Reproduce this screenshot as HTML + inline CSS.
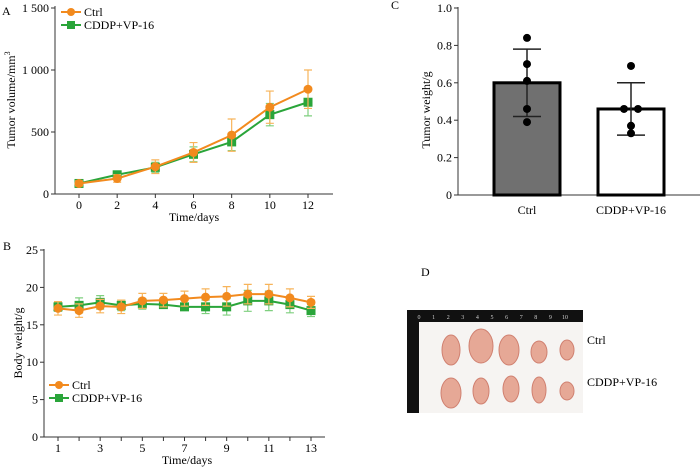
<!DOCTYPE html>
<html><head><meta charset="utf-8"><style>
body{margin:0;background:#fff;}
svg{display:block;font-family:"Liberation Serif",serif;}
</style></head><body>
<svg id="fig" width="700" height="467" viewBox="0 0 700 467"></svg>
<script>
// ---- Panel A data
const aDays=[0,2,4,6,8,10,12];
const aCtrl=[85,125,220,335,475,700,845];
const aCtrlErr=[20,30,55,80,130,130,155];
const aCddp=[85,155,215,320,420,640,740];
const aCddpErr=[20,20,40,60,70,90,110];
const aYTicks=[0,500,1000,1500];
const aYTickLabels=["0","500","1 000","1 500"];
// ---- Panel B data
const bDays=[1,2,3,4,5,6,7,8,9,10,11,12,13];
const bXTicks=[1,3,5,7,9,11,13];
const bCtrl=[17.2,16.9,17.5,17.4,18.2,18.3,18.5,18.7,18.8,19.1,19.1,18.6,18.0];
const bCtrlErr=[0.9,0.9,0.9,0.9,1.0,0.9,1.0,1.1,1.3,1.3,1.3,1.2,0.8];
const bCddp=[17.4,17.6,18.0,17.6,17.8,17.7,17.4,17.4,17.4,18.2,18.2,17.7,16.9];
const bCddpErr=[0.6,1.0,0.9,0.7,0.7,0.5,0.4,0.9,1.1,1.4,1.3,1.1,0.8];
const bYTicks=[0,5,10,15,20,25];
// ---- Panel C data
const cGroups=["Ctrl","CDDP+VP-16"];
const cMeans=[0.6,0.46];
const cSd=[0.18,0.14];
const cCtrlPts=[0.84,0.70,0.61,0.46,0.39];
const cCddpPts=[0.69,0.46,0.46,0.37,0.33];
const cYTicks=[0,0.2,0.4,0.6,0.8,1.0];
const cYTickLabels=["0","0.2","0.4","0.6","0.8","1.0"];

const NS="http://www.w3.org/2000/svg";
const svg=document.getElementById('fig');
function mk(tag,attrs,parent,text){const e=document.createElementNS(NS,tag);for(const k in attrs)e.setAttribute(k,attrs[k]);if(text!==undefined)e.textContent=text;(parent||svg).appendChild(e);return e;}
const OR="#f28a1e",OR_L="#f7b45a",GR="#2aa53a",GR_L="#7fcf7f";

// ===== Panel A
const ax=d=>79+(d-0)*(308-79)/12, ay=v=>194-v*(186/1500);
let g=mk('g',{});
let t=mk('text',{x:2,y:15,'font-size':12},g,'A');
mk('line',{x1:55,y1:6,x2:55,y2:194,stroke:'#333'},g);
mk('line',{x1:55,y1:194,x2:333,y2:194,stroke:'#333'},g);
aYTicks.forEach((v,i)=>{mk('line',{x1:51,y1:ay(v),x2:55,y2:ay(v),stroke:'#333'},g);
 t=mk('text',{x:49,y:ay(v)+4,'font-size':12,'text-anchor':'end'},g,aYTickLabels[i]);});
aDays.forEach(d=>{mk('line',{x1:ax(d),y1:194,x2:ax(d),y2:198,stroke:'#333'},g);
 t=mk('text',{x:ax(d),y:209,'font-size':12,'text-anchor':'middle'},g,String(d));});
t=mk('text',{x:194,y:221,'font-size':12,'text-anchor':'middle'},g,'Time/days');
t=mk('text',{transform:'translate(15,100) rotate(-90)','font-size':12,'text-anchor':'middle'},g,'Tumor volume/mm');
mk('tspan',{'font-size':8,dy:-5},t,'3');
function series(g,xs,ys,errs,xf,yf,col,lcol,shape,name){
 xs.forEach((d,i)=>{const x=xf(d),y1=yf(ys[i]+errs[i]),y2=yf(ys[i]-errs[i]);
  let e=mk('path',{d:`M${x},${y1}V${y2}M${x-4},${y1}H${x+4}M${x-4},${y2}H${x+4}`,stroke:lcol,'stroke-width':1.2,fill:'none'},g);
  });
 let l=mk('polyline',{points:xs.map((d,i)=>xf(d)+','+yf(ys[i])).join(' '),stroke:col,'stroke-width':2,fill:'none'},g);
 
 xs.forEach((d,i)=>{const x=xf(d),y=yf(ys[i]);let m;
  if(shape==='c')m=mk('circle',{cx:x,cy:y,r:4.5,fill:col},g);else m=mk('rect',{x:x-4.5,y:y-4.5,width:9,height:9,fill:col},g);
  });
}
series(g,aDays,aCddp,aCddpErr,ax,ay,GR,GR_L,'s','cddp');
series(g,aDays,aCtrl,aCtrlErr,ax,ay,OR,OR_L,'c','ctrl');
function legend(g,x,y,col,shape,label,name){let lg=mk('g',{},g);
 mk('line',{x1:x-10,y1:y,x2:x+10,y2:y,stroke:col,'stroke-width':2},lg);
 if(shape==='c')mk('circle',{cx:x,cy:y,r:4,fill:col},lg);else mk('rect',{x:x-4,y:y-4,width:8,height:8,fill:col},lg);
 mk('text',{x:x+13,y:y+4,'font-size':12},lg,label);}
legend(g,71,12,OR,'c','Ctrl','legend-ctrl');
legend(g,71,25,GR,'s','CDDP+VP-16','legend-cddp');

// ===== Panel B
const bx=d=>58+(d-1)*(311-58)/12, by=v=>437-v*(187/25);
g=mk('g',{});
t=mk('text',{x:3,y:250,'font-size':12},g,'B');
mk('line',{x1:44,y1:249,x2:44,y2:437,stroke:'#333'},g);
mk('line',{x1:44,y1:437,x2:325,y2:437,stroke:'#333'},g);
bYTicks.forEach(v=>{mk('line',{x1:40,y1:by(v),x2:44,y2:by(v),stroke:'#333'},g);
 t=mk('text',{x:38,y:by(v)+4,'font-size':12,'text-anchor':'end'},g,String(v));});
bDays.forEach(d=>mk('line',{x1:bx(d),y1:437,x2:bx(d),y2:441,stroke:'#333'},g));
bXTicks.forEach(d=>{t=mk('text',{x:bx(d),y:452,'font-size':12,'text-anchor':'middle'},g,String(d));});
t=mk('text',{x:187,y:464,'font-size':12,'text-anchor':'middle'},g,'Time/days');
t=mk('text',{transform:'translate(22,343) rotate(-90)','font-size':12,'text-anchor':'middle'},g,'Body weight/g');
series(g,bDays,bCddp,bCddpErr,bx,by,GR,GR_L,'s','cddp');
series(g,bDays,bCtrl,bCtrlErr,bx,by,OR,OR_L,'c','ctrl');
legend(g,59,385,OR,'c','Ctrl','legend-ctrl');
legend(g,59,398,GR,'s','CDDP+VP-16','legend-cddp');

// ===== Panel C
const cy=v=>195-v*187;
const cX=[527,631];
g=mk('g',{});
t=mk('text',{x:391,y:9,'font-size':12},g,'C');
mk('line',{x1:458,y1:7,x2:458,y2:195,stroke:'#333'},g);
mk('line',{x1:458,y1:195,x2:700,y2:195,stroke:'#333'},g);
cYTicks.forEach((v,i)=>{mk('line',{x1:454,y1:cy(v),x2:458,y2:cy(v),stroke:'#333'},g);
 t=mk('text',{x:452,y:cy(v)+4,'font-size':12,'text-anchor':'end'},g,cYTickLabels[i]);});
t=mk('text',{transform:'translate(430,110) rotate(-90)','font-size':12,'text-anchor':'middle'},g,'Tumor weight/g');
const fills=['#707070','#ffffff'];
cGroups.forEach((name,i)=>{
 let b=mk('rect',{x:cX[i]-33,y:cy(cMeans[i]),width:66,height:cy(0)-cy(cMeans[i]),fill:fills[i],stroke:'#000','stroke-width':3},g);
 
 const x=cX[i],y1=cy(cMeans[i]+cSd[i]),y2=cy(cMeans[i]-cSd[i]);
 let e=mk('path',{d:`M${x},${y1}V${y2}M${x-14},${y1}H${x+14}M${x-14},${y2}H${x+14}`,stroke:'#222','stroke-width':1.5,fill:'none'},g);
 
 t=mk('text',{x:x,y:214,'font-size':12,'text-anchor':'middle'},g,name);
});
[cCtrlPts,cCddpPts].forEach((pts,i)=>{const seen={};pts.forEach(v=>{const k=v.toFixed(2);seen[k]=(seen[k]||0)+1;});
 const cnt={};pts.forEach(v=>{const k=v.toFixed(2);const n=seen[k];cnt[k]=(cnt[k]||0)+1;const off=n>1?(cnt[k]-(n+1)/2)*14:0;
  let p=mk('circle',{cx:cX[i]+off,cy:cy(v),r:4,fill:'#000'},g);});});

// ===== Panel D
g=mk('g',{});
t=mk('text',{x:421,y:276,'font-size':12},g,'D');
mk('rect',{x:407,y:310,width:176,height:103,fill:'#111'},g);
mk('rect',{x:419,y:322,width:164,height:91,fill:'#f6f4f2'},g);
for(let i=0;i<=10;i++){mk('text',{x:419+i*14.6,y:319,'font-size':6,fill:'#ccc','text-anchor':'middle'},g,String(i));}
const tum=[[451,350,9,15],[481,346,12,17],[509,350,10,15],[539,352,8,11],[567,350,7,10],[451,393,10,15],[481,391,8,13],[511,389,8,13],[539,390,7,13],[567,391,7,9]];
tum.forEach(a=>{let e=mk('ellipse',{cx:a[0],cy:a[1],rx:a[2],ry:a[3],fill:'#e6a896',stroke:'#d08070','stroke-width':1},g);});
t=mk('text',{x:587,y:344,'font-size':12},g,'Ctrl');
t=mk('text',{x:587,y:386,'font-size':12},g,'CDDP+VP-16');
</script>
</body></html>
